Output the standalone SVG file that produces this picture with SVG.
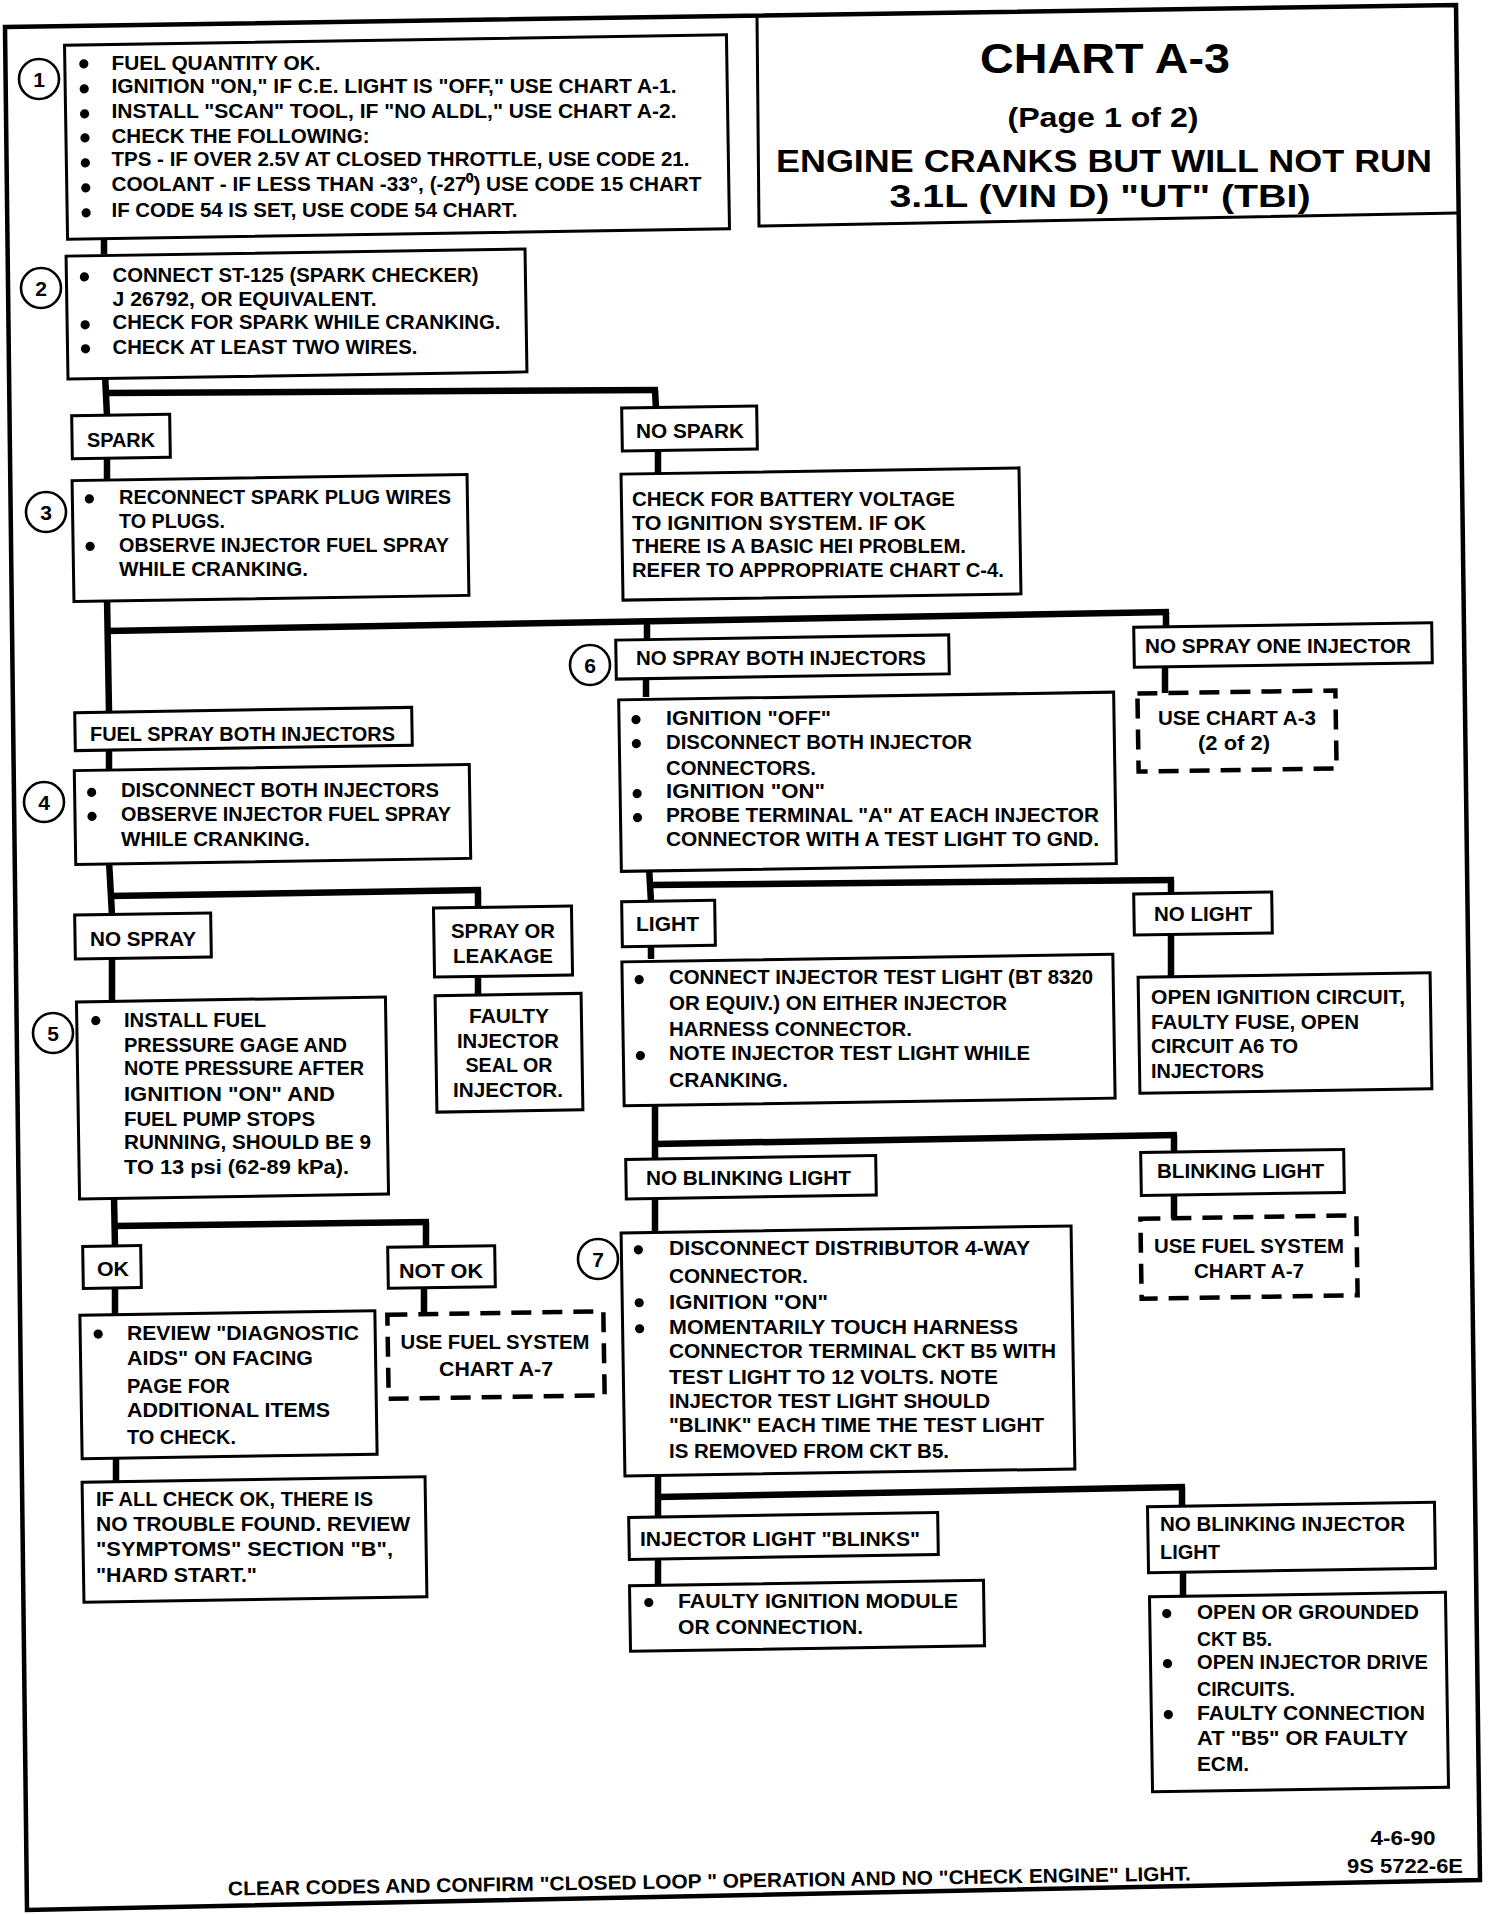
<svg xmlns="http://www.w3.org/2000/svg" width="1504" height="1914" viewBox="0 0 1504 1914">
<style>
.b{fill:#fff;stroke:#000;stroke-width:3}
.d{fill:#fff;stroke:#000;stroke-width:4.5;stroke-dasharray:20 11}
.c{fill:none;stroke:#000;stroke-width:6.5}
.f{fill:none;stroke:#000;stroke-width:4.5}
.n{fill:#fff;stroke:#000;stroke-width:2.6}
text{font-family:"Liberation Sans",Arial,sans-serif;font-weight:bold;font-size:21px;fill:#000}
.m{text-anchor:middle}
.num{font-size:21px;text-anchor:middle}
.s{font-size:20px}
</style>
<defs>
<circle id="bu" r="4.6" fill="#000"/>
</defs>
<rect width="1504" height="1914" fill="#fff"/>
<g id="frame">
<polygon class="f" points="5,27 1456,5 1480,1880 27,1910"/>
<polyline class="f" style="stroke-width:3" points="757,15.6 759,226 1458,213"/>
</g>
<g id="title">
<text class="m" x="1105" y="73" style="font-size:42px" textLength="250" lengthAdjust="spacingAndGlyphs">CHART A-3</text>
<text class="m" x="1103" y="127" style="font-size:28px" textLength="191" lengthAdjust="spacingAndGlyphs">(Page 1 of 2)</text>
<text class="m" x="1104" y="171.5" style="font-size:32px" textLength="656" lengthAdjust="spacingAndGlyphs">ENGINE CRANKS BUT WILL NOT RUN</text>
<text class="m" x="1100" y="207" style="font-size:31px" textLength="421" lengthAdjust="spacingAndGlyphs">3.1L  (VIN D)  "UT"  (TBI)</text>
</g>
<g id="connectors">
<line class="c" x1="104" y1="232" x2="104" y2="254"/>
<polyline class="c" points="105,374 107,416"/>
<polyline class="c" points="105,393 658,390"/>
<line class="c" x1="655" y1="390" x2="656" y2="409"/>
<line class="c" x1="107" y1="457" x2="107" y2="479"/>
<line class="c" x1="658" y1="449" x2="658" y2="473"/>
<line class="c" x1="107" y1="597" x2="109" y2="712"/>
<polyline class="c" points="107,631 1169,612"/>
<line class="c" x1="1166" y1="612" x2="1166" y2="626"/>
<line class="c" x1="647" y1="621" x2="647" y2="639"/>
<line class="c" x1="109" y1="747" x2="109" y2="769"/>
<line class="c" x1="1165" y1="664" x2="1165" y2="693"/>
<line class="c" x1="646" y1="675" x2="646" y2="697"/>
<line class="c" x1="109" y1="861" x2="112" y2="915"/>
<polyline class="c" points="109,896 481,890"/>
<line class="c" x1="478" y1="890" x2="478" y2="908"/>
<line class="c" x1="112" y1="957" x2="112" y2="1002"/>
<line class="c" x1="478" y1="975" x2="478" y2="996"/>
<line class="c" x1="114" y1="1196" x2="115" y2="1247"/>
<polyline class="c" points="114,1226 429,1222"/>
<line class="c" x1="426" y1="1222" x2="426" y2="1248"/>
<line class="c" x1="115" y1="1287" x2="115" y2="1314"/>
<line class="c" x1="424" y1="1287" x2="424" y2="1315"/>
<line class="c" x1="116" y1="1455" x2="116" y2="1482"/>
<line class="c" x1="649" y1="867" x2="651" y2="902"/>
<polyline class="c" points="649,885 1174,880"/>
<line class="c" x1="1171" y1="880" x2="1171" y2="894"/>
<line class="c" x1="651" y1="945" x2="651" y2="959"/>
<line class="c" x1="1171" y1="933" x2="1171" y2="976"/>
<line class="c" x1="655" y1="1101" x2="655" y2="1159"/>
<polyline class="c" points="655,1144 1177,1135"/>
<line class="c" x1="1174" y1="1135" x2="1174" y2="1152"/>
<line class="c" x1="1174" y1="1193" x2="1174" y2="1219"/>
<line class="c" x1="655" y1="1196" x2="655" y2="1232"/>
<line class="c" x1="658" y1="1471" x2="658" y2="1517"/>
<polyline class="c" points="658,1497 1185,1487"/>
<line class="c" x1="1182" y1="1487" x2="1182" y2="1505"/>
<line class="c" x1="658" y1="1556" x2="658" y2="1585"/>
<line class="c" x1="1183" y1="1569" x2="1183" y2="1597"/>
</g>
<g id="n1">
<g transform="rotate(-0.9 397 137)"><rect class="b" x="66" y="40" width="662" height="194"/>
<use href="#bu" x="85" y="59"/><use href="#bu" x="85" y="84"/><use href="#bu" x="85" y="109"/><use href="#bu" x="85" y="133"/><use href="#bu" x="85" y="158"/><use href="#bu" x="85" y="183"/><use href="#bu" x="85" y="208"/></g>
<text x="111.5" y="69.8" textLength="209" lengthAdjust="spacingAndGlyphs">FUEL QUANTITY OK.</text>
<text x="111.5" y="93" textLength="565" lengthAdjust="spacingAndGlyphs">IGNITION "ON," IF C.E. LIGHT IS "OFF," USE CHART A-1.</text>
<text x="111.5" y="117.5" textLength="565" lengthAdjust="spacingAndGlyphs">INSTALL "SCAN" TOOL, IF "NO ALDL," USE CHART A-2.</text>
<text x="111.5" y="142.5" textLength="258" lengthAdjust="spacingAndGlyphs">CHECK THE FOLLOWING:</text>
<text x="111.5" y="166.2" textLength="578" lengthAdjust="spacingAndGlyphs">TPS - IF OVER 2.5V AT CLOSED THROTTLE, USE CODE 21.</text>
<text x="111.5" y="191" textLength="590" lengthAdjust="spacingAndGlyphs">COOLANT - IF LESS THAN -33°, (-27⁰) USE CODE 15 CHART</text>
<text x="111.5" y="217.3" textLength="406" lengthAdjust="spacingAndGlyphs">IF CODE 54 IS SET, USE CODE 54 CHART.</text>
</g>
<g id="c1"><circle class="n" cx="39" cy="79" r="20"/><text class="num" x="39" y="86.5">1</text></g>
<g id="n2">
<g transform="rotate(-0.9 296.5 314)"><rect class="b" x="67" y="252.5" width="459" height="123"/>
<use href="#bu" x="85" y="273.5"/><use href="#bu" x="85" y="321.5"/><use href="#bu" x="85" y="345.5"/></g>
<text x="112.5" y="281.5" textLength="366" lengthAdjust="spacingAndGlyphs">CONNECT ST-125 (SPARK CHECKER)</text>
<text x="112.5" y="305.8" textLength="264" lengthAdjust="spacingAndGlyphs">J 26792, OR EQUIVALENT.</text>
<text x="112.5" y="329.3" textLength="388" lengthAdjust="spacingAndGlyphs">CHECK FOR SPARK WHILE CRANKING.</text>
<text x="112.5" y="354" textLength="305" lengthAdjust="spacingAndGlyphs">CHECK AT LEAST TWO WIRES.</text>
</g>
<g id="c2"><circle class="n" cx="41" cy="288" r="20"/><text class="num" x="41" y="295.5">2</text></g>
<g id="spark">
<rect class="b" x="72" y="415" width="98" height="43" transform="rotate(-0.9 121 436.5)"/>
<text x="87" y="447" textLength="68" lengthAdjust="spacingAndGlyphs">SPARK</text>
</g>
<g id="nospark">
<rect class="b" x="622" y="407" width="135" height="43" transform="rotate(-0.9 689.5 428.5)"/>
<text x="636" y="438" textLength="108" lengthAdjust="spacingAndGlyphs">NO SPARK</text>
</g>
<g id="n3">
<g transform="rotate(-0.9 270.5 538)"><rect class="b" x="73" y="477.5" width="395" height="121"/>
<use href="#bu" x="90" y="496"/><use href="#bu" x="90" y="543.5"/></g>
<text x="119" y="503.8" textLength="332" lengthAdjust="spacingAndGlyphs">RECONNECT SPARK PLUG WIRES</text>
<text x="119" y="528" textLength="106" lengthAdjust="spacingAndGlyphs">TO PLUGS.</text>
<text x="119" y="551.5" textLength="330" lengthAdjust="spacingAndGlyphs">OBSERVE INJECTOR FUEL SPRAY</text>
<text x="119" y="575.9" textLength="189" lengthAdjust="spacingAndGlyphs">WHILE CRANKING.</text>
</g>
<g id="c3"><circle class="n" cx="46" cy="512" r="20"/><text class="num" x="46" y="519.5">3</text></g>
<g id="battery">
<rect class="b" x="622" y="471" width="398" height="126" transform="rotate(-0.9 821 534)"/>
<text x="632" y="506" textLength="323" lengthAdjust="spacingAndGlyphs">CHECK FOR BATTERY VOLTAGE</text>
<text x="632" y="529.5" textLength="294" lengthAdjust="spacingAndGlyphs">TO IGNITION SYSTEM.  IF OK</text>
<text x="632" y="553" textLength="334" lengthAdjust="spacingAndGlyphs">THERE IS A BASIC HEI PROBLEM.</text>
<text x="632" y="576.5" textLength="372" lengthAdjust="spacingAndGlyphs">REFER TO APPROPRIATE CHART C-4.</text>
</g>
<g id="fuelspray">
<rect class="b" x="75" y="710" width="337" height="38" transform="rotate(-0.9 243.5 729)"/>
<text x="90" y="741" textLength="305" lengthAdjust="spacingAndGlyphs">FUEL SPRAY BOTH INJECTORS</text>
</g>
<g id="n4">
<g transform="rotate(-0.9 272.5 814.5)"><rect class="b" x="75" y="767.5" width="395" height="94"/>
<use href="#bu" x="92" y="789.5"/><use href="#bu" x="92" y="813.5"/></g>
<text x="121" y="797.4" textLength="318" lengthAdjust="spacingAndGlyphs">DISCONNECT BOTH INJECTORS</text>
<text x="121" y="821.3" textLength="330" lengthAdjust="spacingAndGlyphs">OBSERVE INJECTOR FUEL SPRAY</text>
<text x="121" y="846.4" textLength="189" lengthAdjust="spacingAndGlyphs">WHILE CRANKING.</text>
</g>
<g id="c4"><circle class="n" cx="44" cy="802" r="20"/><text class="num" x="44" y="809.5">4</text></g>
<g id="nospraybo">
<rect class="b" x="616" y="637.5" width="333" height="39" transform="rotate(-0.9 782.5 657)"/>
<text x="636" y="664.5" textLength="290" lengthAdjust="spacingAndGlyphs">NO SPRAY BOTH INJECTORS</text>
</g>
<g id="c6"><circle class="n" cx="590" cy="665" r="20"/><text class="num" x="590" y="672.5">6</text></g>
<g id="nosprayone">
<rect class="b" x="1134" y="625" width="298" height="40" transform="rotate(-0.9 1283 645)"/>
<text x="1145" y="653" textLength="266" lengthAdjust="spacingAndGlyphs">NO SPRAY ONE INJECTOR</text>
</g>
<g id="usea3">
<rect class="d" x="1138" y="692" width="198" height="78" transform="rotate(-0.9 1237 731)"/>
<text class="m" x="1237" y="725" textLength="158" lengthAdjust="spacingAndGlyphs">USE CHART A-3</text>
<text class="m" x="1234" y="750" textLength="72" lengthAdjust="spacingAndGlyphs">(2 of 2)</text>
</g>
<g id="n6">
<g transform="rotate(-0.9 867.5 782)"><rect class="b" x="620" y="696" width="495" height="171.5"/>
<use href="#bu" x="637" y="716"/><use href="#bu" x="637" y="740"/><use href="#bu" x="637" y="790"/><use href="#bu" x="637" y="814"/></g>
<text x="666" y="725.3" textLength="165" lengthAdjust="spacingAndGlyphs">IGNITION "OFF"</text>
<text x="666" y="748.8" textLength="306" lengthAdjust="spacingAndGlyphs">DISCONNECT BOTH INJECTOR</text>
<text x="666" y="774.5" textLength="150" lengthAdjust="spacingAndGlyphs">CONNECTORS.</text>
<text x="666" y="798.3" textLength="159" lengthAdjust="spacingAndGlyphs">IGNITION "ON"</text>
<text x="666" y="821.8" textLength="433" lengthAdjust="spacingAndGlyphs">PROBE TERMINAL "A" AT EACH INJECTOR</text>
<text x="666" y="845.8" textLength="433" lengthAdjust="spacingAndGlyphs">CONNECTOR WITH A TEST LIGHT TO GND.</text>
</g>
<g id="light">
<rect class="b" x="622" y="901" width="93" height="45" transform="rotate(-0.9 668.5 923.5)"/>
<text x="636" y="931" textLength="63" lengthAdjust="spacingAndGlyphs">LIGHT</text>
</g>
<g id="nolight">
<rect class="b" x="1134" y="893" width="138" height="41" transform="rotate(-0.9 1203 913.5)"/>
<text x="1154" y="921" textLength="98" lengthAdjust="spacingAndGlyphs">NO LIGHT</text>
</g>
<g id="nolightc">
<rect class="b" x="1139" y="975" width="292" height="116" transform="rotate(-0.9 1285 1033)"/>
<text x="1151" y="1004.1" textLength="254" lengthAdjust="spacingAndGlyphs">OPEN IGNITION CIRCUIT,</text>
<text x="1151" y="1028.5" textLength="208" lengthAdjust="spacingAndGlyphs">FAULTY FUSE, OPEN</text>
<text x="1151" y="1053" textLength="147" lengthAdjust="spacingAndGlyphs">CIRCUIT A6 TO</text>
<text x="1151" y="1078.2" textLength="113" lengthAdjust="spacingAndGlyphs">INJECTORS</text>
</g>
<g id="lightc">
<g transform="rotate(-0.9 868.5 1030)"><rect class="b" x="623" y="958" width="491" height="144"/>
<use href="#bu" x="640" y="976"/><use href="#bu" x="640" y="1052"/></g>
<text x="669" y="983.8" textLength="424" lengthAdjust="spacingAndGlyphs">CONNECT INJECTOR TEST LIGHT (BT 8320</text>
<text x="669" y="1009.5" textLength="338" lengthAdjust="spacingAndGlyphs">OR EQUIV.) ON EITHER INJECTOR</text>
<text x="669" y="1036.2" textLength="243" lengthAdjust="spacingAndGlyphs">HARNESS CONNECTOR.</text>
<text x="669" y="1060.3" textLength="361" lengthAdjust="spacingAndGlyphs">NOTE INJECTOR TEST LIGHT WHILE</text>
<text x="669" y="1087.2" textLength="119" lengthAdjust="spacingAndGlyphs">CRANKING.</text>
</g>
<g id="noblink">
<rect class="b" x="626" y="1157.5" width="250" height="39.5" transform="rotate(-0.9 751 1177)"/>
<text x="646" y="1184.5" textLength="205" lengthAdjust="spacingAndGlyphs">NO BLINKING LIGHT</text>
</g>
<g id="blink">
<rect class="b" x="1141" y="1151" width="203" height="43" transform="rotate(-0.9 1242.5 1172.5)"/>
<text x="1157" y="1178" textLength="167" lengthAdjust="spacingAndGlyphs">BLINKING LIGHT</text>
</g>
<g id="usea7r">
<rect class="d" x="1141" y="1217" width="216" height="80" transform="rotate(-0.9 1249 1257)"/>
<text class="m" x="1249" y="1253" textLength="190" lengthAdjust="spacingAndGlyphs">USE FUEL SYSTEM</text>
<text class="m" x="1249" y="1278" textLength="110" lengthAdjust="spacingAndGlyphs">CHART A-7</text>
</g>
<g id="n7">
<g transform="rotate(-0.9 848 1351)"><rect class="b" x="623" y="1229.5" width="450" height="243"/>
<use href="#bu" x="640" y="1246.5"/><use href="#bu" x="640" y="1299.5"/><use href="#bu" x="640" y="1325.5"/></g>
<text x="669" y="1254.5" textLength="361" lengthAdjust="spacingAndGlyphs">DISCONNECT DISTRIBUTOR 4-WAY</text>
<text x="669" y="1283.2" textLength="139" lengthAdjust="spacingAndGlyphs">CONNECTOR.</text>
<text x="669" y="1309.1" textLength="159" lengthAdjust="spacingAndGlyphs">IGNITION "ON"</text>
<text x="669" y="1333.6" textLength="349" lengthAdjust="spacingAndGlyphs">MOMENTARILY TOUCH HARNESS</text>
<text x="669" y="1358.3" textLength="387" lengthAdjust="spacingAndGlyphs">CONNECTOR TERMINAL CKT B5 WITH</text>
<text x="669" y="1383.7" textLength="329" lengthAdjust="spacingAndGlyphs">TEST LIGHT TO 12 VOLTS. NOTE</text>
<text x="669" y="1407.8" textLength="321" lengthAdjust="spacingAndGlyphs">INJECTOR TEST LIGHT SHOULD</text>
<text x="669" y="1432.4" textLength="375" lengthAdjust="spacingAndGlyphs">"BLINK" EACH TIME THE TEST LIGHT</text>
<text x="669" y="1458.1" textLength="280" lengthAdjust="spacingAndGlyphs">IS REMOVED FROM CKT B5.</text>
</g>
<g id="c7"><circle class="n" cx="598" cy="1259" r="20"/><text class="num" x="598" y="1266.5">7</text></g>
<g id="injblinks">
<rect class="b" x="629" y="1515" width="309" height="42" transform="rotate(-0.9 783.5 1536)"/>
<text x="640" y="1546" textLength="280" lengthAdjust="spacingAndGlyphs">INJECTOR LIGHT "BLINKS"</text>
</g>
<g id="faultyign">
<g transform="rotate(-0.9 807 1616)"><rect class="b" x="630" y="1583" width="354" height="65.5"/>
<use href="#bu" x="649" y="1600"/></g>
<text x="678" y="1607.8" textLength="280" lengthAdjust="spacingAndGlyphs">FAULTY IGNITION MODULE</text>
<text x="678" y="1633.6" textLength="185" lengthAdjust="spacingAndGlyphs">OR  CONNECTION.</text>
</g>
<g id="noblinkinj">
<rect class="b" x="1148" y="1504.5" width="287" height="66" transform="rotate(-0.9 1291.5 1537.5)"/>
<text x="1160" y="1530.6" textLength="245" lengthAdjust="spacingAndGlyphs">NO BLINKING INJECTOR</text>
<text x="1160" y="1559.1" textLength="60" lengthAdjust="spacingAndGlyphs">LIGHT</text>
</g>
<g id="final">
<g transform="rotate(-0.9 1299 1692)"><rect class="b" x="1151" y="1594.5" width="296" height="195"/>
<use href="#bu" x="1168" y="1611.5"/><use href="#bu" x="1168" y="1661.5"/><use href="#bu" x="1168" y="1712.5"/></g>
<text x="1197" y="1619.4" textLength="222" lengthAdjust="spacingAndGlyphs">OPEN OR GROUNDED</text>
<text x="1197" y="1645.8" textLength="75" lengthAdjust="spacingAndGlyphs">CKT B5.</text>
<text x="1197" y="1669.3" textLength="231" lengthAdjust="spacingAndGlyphs">OPEN INJECTOR DRIVE</text>
<text x="1197" y="1696.3" textLength="98" lengthAdjust="spacingAndGlyphs">CIRCUITS.</text>
<text x="1197" y="1720.3" textLength="228" lengthAdjust="spacingAndGlyphs">FAULTY CONNECTION</text>
<text x="1197" y="1744.5" textLength="211" lengthAdjust="spacingAndGlyphs">AT "B5"  OR FAULTY</text>
<text x="1197" y="1770.7" textLength="52" lengthAdjust="spacingAndGlyphs">ECM.</text>
</g>
<g id="nospray">
<rect class="b" x="75" y="914" width="136" height="44" transform="rotate(-0.9 143 936)"/>
<text x="90" y="946" textLength="106" lengthAdjust="spacingAndGlyphs">NO SPRAY</text>
</g>
<g id="sprayleak">
<rect class="b" x="434" y="907" width="138" height="69" transform="rotate(-0.9 503 941.5)"/>
<text class="m" x="503" y="938" textLength="104" lengthAdjust="spacingAndGlyphs">SPRAY OR</text>
<text class="m" x="503" y="963" textLength="100" lengthAdjust="spacingAndGlyphs">LEAKAGE</text>
</g>
<g id="faultyinj">
<rect class="b" x="436" y="994.5" width="146" height="116.5" transform="rotate(-0.9 509 1053)"/>
<text class="m" x="509" y="1023" textLength="80" lengthAdjust="spacingAndGlyphs">FAULTY</text>
<text class="m" x="508" y="1047.5" textLength="102" lengthAdjust="spacingAndGlyphs">INJECTOR</text>
<text class="m" x="509" y="1072" textLength="87" lengthAdjust="spacingAndGlyphs">SEAL OR</text>
<text class="m" x="508" y="1096.5" textLength="110" lengthAdjust="spacingAndGlyphs">INJECTOR.</text>
</g>
<g id="n5">
<g transform="rotate(-0.9 232.5 1098)"><rect class="b" x="78" y="999.5" width="309" height="197"/>
<use href="#bu" x="97" y="1018.5"/></g>
<text x="124" y="1027.1" textLength="142" lengthAdjust="spacingAndGlyphs">INSTALL FUEL</text>
<text x="124" y="1051.5" textLength="223" lengthAdjust="spacingAndGlyphs">PRESSURE GAGE AND</text>
<text x="124" y="1075.3" textLength="240" lengthAdjust="spacingAndGlyphs">NOTE PRESSURE AFTER</text>
<text x="124" y="1100.5" textLength="211" lengthAdjust="spacingAndGlyphs">IGNITION "ON" AND</text>
<text x="124" y="1125.7" textLength="191" lengthAdjust="spacingAndGlyphs">FUEL PUMP STOPS</text>
<text x="124" y="1149.3" textLength="247" lengthAdjust="spacingAndGlyphs">RUNNING, SHOULD BE 9</text>
<text x="124" y="1174.4" textLength="225" lengthAdjust="spacingAndGlyphs">TO 13 psi  (62-89 kPa).</text>
</g>
<g id="c5"><circle class="n" cx="53" cy="1033" r="20"/><text class="num" x="53" y="1040.5">5</text></g>
<g id="ok">
<rect class="b" x="83" y="1246" width="58" height="42" transform="rotate(-0.9 112 1267)"/>
<text x="97" y="1276" textLength="32" lengthAdjust="spacingAndGlyphs">OK</text>
</g>
<g id="notok">
<rect class="b" x="388" y="1246.5" width="107" height="41" transform="rotate(-0.9 441.5 1267)"/>
<text x="399" y="1278" textLength="84" lengthAdjust="spacingAndGlyphs">NOT OK</text>
</g>
<g id="usea7l">
<rect class="d" x="388" y="1313" width="216" height="84" transform="rotate(-0.9 496 1355)"/>
<text class="m" x="495" y="1349" textLength="189" lengthAdjust="spacingAndGlyphs">USE FUEL SYSTEM</text>
<text class="m" x="496" y="1376" textLength="114" lengthAdjust="spacingAndGlyphs">CHART A-7</text>
</g>
<g id="okc">
<g transform="rotate(-0.9 228.5 1385)"><rect class="b" x="81" y="1313" width="295" height="143.5"/>
<use href="#bu" x="99" y="1332"/></g>
<text x="127" y="1339.8" textLength="232" lengthAdjust="spacingAndGlyphs">REVIEW "DIAGNOSTIC</text>
<text x="127" y="1365.1" textLength="186" lengthAdjust="spacingAndGlyphs">AIDS" ON FACING</text>
<text x="127" y="1392.8" textLength="103" lengthAdjust="spacingAndGlyphs">PAGE FOR</text>
<text x="127" y="1417" textLength="203" lengthAdjust="spacingAndGlyphs">ADDITIONAL ITEMS</text>
<text x="127" y="1443.7" textLength="109" lengthAdjust="spacingAndGlyphs">TO CHECK.</text>
</g>
<g id="ifall">
<rect class="b" x="83" y="1479.5" width="343" height="120" transform="rotate(-0.9 254.5 1539.5)"/>
<text x="96" y="1506.3" textLength="277" lengthAdjust="spacingAndGlyphs">IF ALL CHECK OK,  THERE IS</text>
<text x="96" y="1531" textLength="314" lengthAdjust="spacingAndGlyphs">NO TROUBLE FOUND. REVIEW</text>
<text x="96" y="1556.2" textLength="297" lengthAdjust="spacingAndGlyphs">"SYMPTOMS" SECTION "B",</text>
<text x="96" y="1582.2" textLength="161" lengthAdjust="spacingAndGlyphs">"HARD START."</text>
</g>
<g id="footer">
<text class="s" x="1403" y="1845" style="text-anchor:middle" textLength="65" lengthAdjust="spacingAndGlyphs">4-6-90</text>
<text class="s" x="1405" y="1873" style="text-anchor:middle" textLength="116" lengthAdjust="spacingAndGlyphs">9S 5722-6E</text>
<text class="s" x="228" y="1888" transform="rotate(-0.9 710 1888)" textLength="963" lengthAdjust="spacingAndGlyphs">CLEAR CODES AND CONFIRM "CLOSED LOOP " OPERATION AND NO "CHECK ENGINE" LIGHT.</text>
</g>
</svg>
